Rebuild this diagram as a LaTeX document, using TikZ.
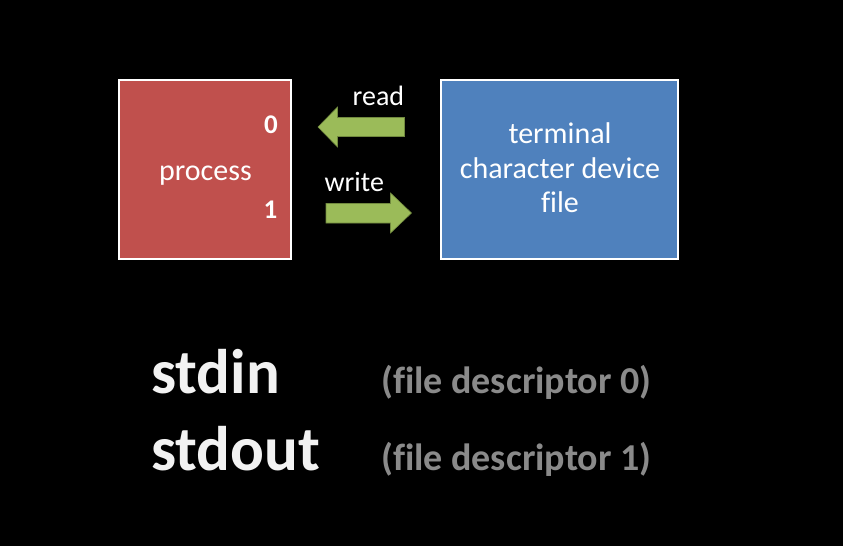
\documentclass[tikz,border=0pt]{standalone}
\usepackage{fontspec}
\setmainfont[Ligatures=NoCommon]{Carlito}
\definecolor{procred}{HTML}{C0504D}
\definecolor{termblue}{HTML}{4F81BD}
\definecolor{arrgreen}{HTML}{9BBB59}
\definecolor{arredge}{HTML}{71893F}
\definecolor{descgray}{HTML}{8A8A8A}
\definecolor{bigwhite}{HTML}{F2F2F2}
\begin{document}
\begin{tikzpicture}[x=1pt,y=-1pt,
  boxstyle/.style={draw=white,line width=2.5pt,inner sep=0pt,minimum width=#1,minimum height=179pt},
  boxtext/.style={text=white,font=\fontsize{30}{34.5}\selectfont,align=center,anchor=base,inner sep=0pt},
  lbl/.style={text=white,font=\fontsize{28}{32}\selectfont,inner sep=0pt,anchor=base west},
  num/.style={text=white,font=\bfseries\fontsize{27}{32}\selectfont,inner sep=0pt,anchor=base east},
  fatarrow/.style={fill=arrgreen,draw=arredge,line width=0.6pt},
  bigword/.style={text=bigwhite,font=\bfseries\fontsize{63}{70}\selectfont,anchor=base west,inner sep=0pt},
  desc/.style={text=descgray,font=\bfseries\fontsize{38}{44}\selectfont,anchor=base west,inner sep=0pt}]
\fill[black] (0,0) rectangle (843,546);
\useasboundingbox (0,0) rectangle (843,546);
% boxes
\node[boxstyle=172pt,fill=procred] (proc) at (205,169.5) {};
\node[boxstyle=237pt,fill=termblue] (term) at (559.5,169.5) {};
\node[boxtext] (proctext) at (205.5,180) {process};
\node[boxtext] (termtext) at (560,212.5) {terminal\\character device\\file};
\node[num] (zero) at (278,133.3) {0};
\node[num] (one) at (277.5,218.3) {1};
% arrows
\node[lbl] (readlbl) at (352.5,105) {read};
\node[lbl] (writelbl) at (324.5,191) {write};
\draw[fatarrow] (404.5,117.5) -- (337.5,117.5) -- (337.5,107) -- (318,127) -- (337.5,147) -- (337.5,136.5) -- (404.5,136.5) -- cycle;
\draw[fatarrow] (326,203.5) -- (390.5,203.5) -- (390.5,193) -- (411.5,213) -- (390.5,233) -- (390.5,223) -- (326,223) -- cycle;
% legend
\node[bigword] (stdin) at (151,393.5) {stdin};
\node[bigword] (stdout) at (151,470) {stdout};
\node[desc] (d0) at (381,393.5) {(file descriptor 0)};
\node[desc] (d1) at (381,470) {(file descriptor 1)};
\end{tikzpicture}
\end{document}
